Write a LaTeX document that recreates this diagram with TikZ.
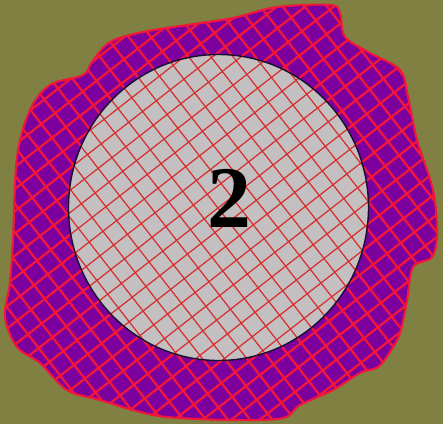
\documentclass[tikz,border=0pt]{standalone}
\usepackage{fontspec}
\setmainfont{Liberation Serif}
\usetikzlibrary{positioning}
\definecolor{OliveGround}{RGB}{128,128,66}
\definecolor{GrainPurple}{RGB}{124,0,158}
\definecolor{CoreGrey}{RGB}{196,192,194}
\definecolor{HatchRed}{RGB}{242,22,58}
\definecolor{FineRed}{RGB}{214,46,46}
\definecolor{RimNavy}{RGB}{24,16,48}
\tikzset{
  ground/.style={fill=OliveGround},
  grain/.style={fill=GrainPurple,draw=HatchRed,line width=1.2pt},
  core/.style={fill=CoreGrey},
  corerim/.style={draw=RimNavy,line width=0.8pt},
  coarsehatch/.style={draw=HatchRed,line width=1.3pt},
  finehatch/.style={draw=FineRed,line width=0.7pt},
  digitlabel/.style={font=\fontsize{50}{50}\selectfont\bfseries,text=black,inner sep=0pt}
}

\begin{document}
\begin{tikzpicture}[x=0.02cm,y=-0.02cm]
  \fill[ground] (0,0) rectangle (443,424);
  \useasboundingbox (0,0) rectangle (443,424);
  % outer grain outline
  \path[save path=\grainpath] plot[smooth cycle,tension=0.55] coordinates {
    (13,240) (17,157) (30,110) (50,85) (83,75) (92,62) (110,42) (143,32)
    (187,25) (233,18) (277,7) (330,5) (340,13) (345,37) (370,53) (400,70)
    (408,97) (417,140) (433,190) (437,233) (432,257) (413,267) (407,300)
    (400,333) (390,352) (378,367) (360,373) (333,390) (300,405) (283,418)
    (233,420) (167,417) (133,410) (100,400) (67,390) (40,363) (17,347)
    (5,317) (10,283)};
  \path[grain,use path=\grainpath];
  \begin{scope}
    \clip[use path=\grainpath];
    \begin{scope}[shift={(218,208)},rotate=-52]
      \foreach \k in {-20,...,20}{
        \draw[coarsehatch] (\k*17.5,-340) -- (\k*17.5,340);
        \draw[coarsehatch] (-340,\k*17.5) -- (340,\k*17.5);
      }
    \end{scope}
  \end{scope}
  % inner core with fine hatch
  \fill[core] (218.5,207.5) circle[x radius=150,y radius=153];
  \begin{scope}
    \clip (218.5,207.5) circle[x radius=150,y radius=153];
    \begin{scope}[shift={(218,208)},rotate=-52]
      \foreach \k in {-20,...,20}{
        \draw[finehatch] (\k*17.5,-340) -- (\k*17.5,340);
        \draw[finehatch] (-340,\k*17.5) -- (340,\k*17.5);
      }
    \end{scope}
  \end{scope}
  \draw[corerim] (218.5,207.5) circle[x radius=150,y radius=153];
  \node[digitlabel] (digit) at (229,198) {2};
\end{tikzpicture}
\end{document}
